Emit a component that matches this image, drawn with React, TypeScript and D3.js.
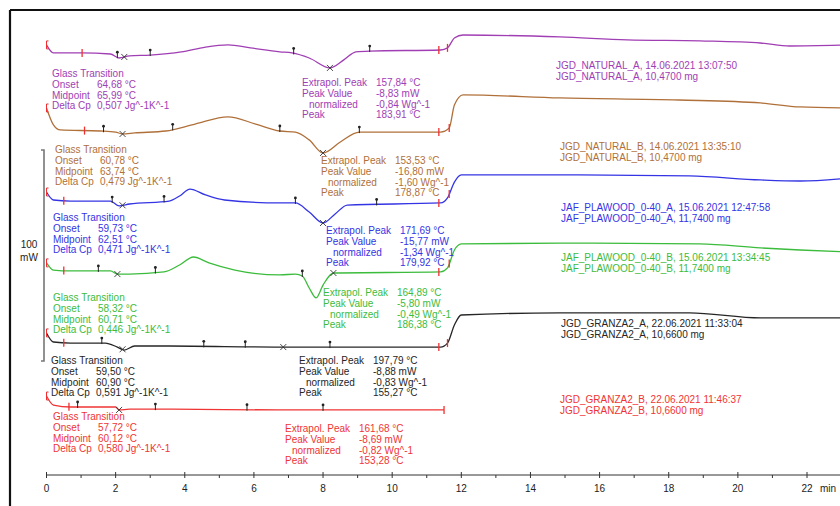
import * as d3 from 'd3'

// time (min) vs heat flow (mW, stacked with offsets as plotted)
const naturalA: [number, number][] = [
  [0, 149.8], [0.2, 146.0], [1.0, 146.0], [1.85, 145.5], [2.1, 143.6], [2.4, 144.6], [3.0, 145.0],
  [3.9, 146.5], [4.6, 148.8], [5.25, 149.8], [5.9, 148.4], [6.75, 146.5], [7.1, 146.0], [7.6, 143.6],
  [8.2, 138.9], [8.6, 142.7], [8.95, 146.5], [9.35, 146.9], [11.4, 147.4], [11.6, 148.4], [11.8, 153.1],
  [12.05, 154.5], [14.85, 153.6], [16.8, 152.2], [18.9, 151.7], [20.65, 150.7], [21.5, 149.3], [23.2, 149.8],
]
const naturalB: [number, number][] = [
  [0, 119.9], [0.2, 111.9], [0.4, 109.5], [1.55, 109.0], [2.0, 108.5], [2.2, 107.6], [2.55, 108.1],
  [3.45, 109.0], [4.3, 112.3], [5.25, 115.7], [6.05, 112.3], [6.75, 109.0], [7.2, 108.5], [7.6, 104.8],
  [8.0, 98.6], [8.5, 103.8], [9.05, 108.5], [11.4, 108.5], [11.65, 110.4], [11.8, 121.3], [12.05, 126.1],
  [14.85, 124.7], [18.3, 123.7], [20.65, 122.3], [21.8, 120.4], [23.2, 119.9],
]
const plawoodA: [number, number][] = [
  [0, 80.1], [0.2, 76.3], [0.7, 75.8], [1.85, 75.8], [2.1, 73.5], [2.4, 74.4], [3.55, 75.8], [3.85, 78.2],
  [4.15, 81.5], [4.6, 78.7], [5.15, 76.3], [6.75, 74.9], [7.2, 74.9], [7.6, 70.6], [8.0, 65.4], [8.35, 69.7],
  [8.7, 73.9], [11.4, 74.9], [11.6, 77.3], [11.8, 84.8], [12.0, 88.2], [14.85, 88.2], [18.6, 87.7],
  [20.65, 85.8], [21.8, 85.3], [23.2, 86.7],
]
const plawoodB: [number, number][] = [
  [0, 46.5], [0.2, 43.1], [0.7, 42.7], [1.85, 42.7], [2.05, 41.2], [2.4, 41.2], [3.4, 42.2], [3.85, 45.5],
  [4.25, 49.3], [4.7, 46.5], [5.45, 43.1], [6.75, 40.8], [7.2, 41.2], [7.4, 40.3], [7.6, 34.6], [7.8, 29.9],
  [8.0, 36.0], [8.3, 41.7], [11.4, 42.2], [11.6, 44.1], [11.8, 52.6], [12.0, 55.5], [14.85, 55.9],
  [18.9, 55.5], [20.65, 53.6], [21.8, 52.6], [23.2, 51.7],
]
const granzaA: [number, number][] = [
  [0, 13.3], [0.2, 9.0], [0.7, 8.5], [1.7, 8.5], [2.05, 6.6], [2.25, 5.2], [2.55, 7.1], [3.55, 7.1],
  [6.75, 6.6], [11.4, 6.6], [11.6, 8.5], [11.8, 17.1], [12.0, 21.8], [14.85, 22.8], [18.6, 22.8],
  [20.65, 20.4], [23.2, 20.4],
]
const granzaB: [number, number][] = [
  [0, -16.6], [0.2, -20.9], [0.7, -21.8], [2.0, -21.8], [2.1, -23.2], [2.4, -22.8], [3.55, -22.8],
  [6.75, -23.2], [11.5, -23.2],
]

const curves = [naturalA, naturalB, plawoodA, plawoodB, granzaA, granzaB]
const colors = ['#a03eb4', '#b0703a', '#3434e4', '#3cbc3c', '#262626', '#f03434']

const sampleNames = ['JGD_NATURAL_A', 'JGD_NATURAL_B', 'JAF_PLAWOOD_0-40_A', 'JAF_PLAWOOD_0-40_B', 'JGD_GRANZA2_A', 'JGD_GRANZA2_B']
const sampleDates = ['14.06.2021 13:07:50', '14.06.2021 13:35:10', '15.06.2021 12:47:58', '15.06.2021 13:34:45', '22.06.2021 11:33:04', '22.06.2021 11:46:37']
const sampleMasses = ['10,4700', '10,4700', '11,7400', '11,7400', '10,6600', '10,6600']

const onsets = ['64,68', '60,78', '59,73', '58,32', '59,50', '57,72']
const midpoints = ['65,99', '63,74', '62,51', '60,71', '60,90', '60,12']
const deltaCps = ['0,507', '0,479', '0,471', '0,446', '0,591', '0,580']

const extrapolPeaks = ['157,84', '153,53', '171,69', '164,89', '197,79', '161,68']
const peakValues = ['-8,83', '-16,80', '-15,77', '-5,80', '-8,88', '-8,69']
const normalizedValues = ['-0,84', '-1,60', '-1,34', '-0,49', '-0,83', '-0,82']
const peakTemps = ['183,91', '178,87', '179,92', '186,38', '155,27', '153,28']

// evaluation markers (min)
const redTicks = [[1.03, 11.35, 11.6], [1.1, 11.35, 11.65], [0.5, 11.35, 11.65], [0.5, 11.35, 11.65], [0.5, 11.35, 11.6], [0.65, 11.5]]
const flagTicks = [[2.05, 3.0, 7.15, 9.35], [1.65, 3.65, 6.75, 9.05], [1.9, 3.4, 7.2, 9.55], [1.5, 3.15, 7.4], [1.6, 4.55, 5.75, 8.2], [0.9, 3.15, 5.8, 8.0]]
const crossTicks = [[2.25, 8.2], [2.2, 8.0], [2.2, 8.0], [2.05, 8.3], [2.2, 6.85], [2.1]]

const xTicks = d3.range(0, 24, 1)

// label layout [x, y of first line]
const gtPos = [[52, 77], [55, 153], [53, 221], [53, 301], [51, 364], [53, 420]]
const pkPos = [[302, 86], [321, 164], [326, 234], [323, 296], [299, 364], [285, 432]]
const smPos = [[556, 69], [560, 150], [561, 211], [561, 261], [561, 327], [560, 403]]

const W = 840
const H = 506
const LH = 10.8

export default function App() {
  const x = d3.scaleLinear().domain([0, 22]).range([46.5, 807])
  const y = d3.scaleLinear().domain([0, 100]).range([361, 150])
  const line = d3.line<[number, number]>().x(d => x(d[0])).y(d => y(d[1])).curve(d3.curveMonotoneX)
  const bis = d3.bisector((d: [number, number]) => d[0]).left
  const yAt = (data: [number, number][], t: number) => {
    const i = Math.max(1, Math.min(data.length - 1, bis(data, t)))
    const a = data[i - 1], b = data[i]
    const k = (t - a[0]) / (b[0] - a[0])
    return y(a[1] + (b[1] - a[1]) * k)
  }
  const font = 'Liberation Sans, Arial, sans-serif'

  return (
    <svg width={W} height={H} style={{ position: 'absolute', left: 0, top: 0, background: '#fff' }} fontFamily={font} fontSize={10}>
      <defs>
        <clipPath id="plot"><rect x={11} y={11} width={W - 11} height={H - 11} /></clipPath>
      </defs>
      {/* frame */}
      <line x1={10} y1={10} x2={W} y2={10} stroke="#111" strokeWidth={2.2} />
      <line x1={10} y1={10} x2={10} y2={H} stroke="#111" strokeWidth={2.2} />

      {/* scale bar */}
      <path d={`M41,${y(100)} H44 V${y(0)} H41`} fill="none" stroke="#777" strokeWidth={1.6} />
      <text x={29} y={248} textAnchor="middle" fill="#222">100</text>
      <text x={29} y={261} textAnchor="middle" fill="#222">mW</text>

      <g clipPath="url(#plot)">
        {curves.map((c, i) => (
          <g key={i}>
            <path d={line(c) || ''} fill="none" stroke={colors[i]} strokeWidth={1.3} />
            <path d={`M${x(0) + 2},${y(c[0][1]) - 4} h-2 v8 h2`} fill="none" stroke="#f03030" strokeWidth={1} />
            {redTicks[i].map((t, j) => (
              <line key={'r' + j} x1={x(t)} x2={x(t)} y1={yAt(c, t) - 4} y2={yAt(c, t) + 4} stroke="#f03030" strokeWidth={1.3} />
            ))}
            {flagTicks[i].map((t, j) => (
              <g key={'f' + j}>
                <line x1={x(t)} x2={x(t)} y1={yAt(c, t) - 5} y2={yAt(c, t) + 1} stroke="#222" strokeWidth={1} />
                <circle cx={x(t)} cy={yAt(c, t) - 5} r={1.4} fill="#222" />
              </g>
            ))}
            {crossTicks[i].map((t, j) => (
              <path key={'x' + j} d={`M${x(t) - 3},${yAt(c, t) - 3} l6,6 M${x(t) + 3},${yAt(c, t) - 3} l-6,6`} stroke="#333" strokeWidth={0.9} />
            ))}
          </g>
        ))}
      </g>

      {/* glass transition labels */}
      {curves.map((_, i) => {
        const [gx, gy] = gtPos[i]
        return (
          <g key={'gt' + i} fill={colors[i]}>
            <text x={gx} y={gy}>Glass Transition</text>
            <text x={gx} y={gy + LH}>Onset</text>
            <text x={gx + 45} y={gy + LH}>{onsets[i]} °C</text>
            <text x={gx} y={gy + 2 * LH}>Midpoint</text>
            <text x={gx + 45} y={gy + 2 * LH}>{midpoints[i]} °C</text>
            <text x={gx} y={gy + 3 * LH}>Delta Cp</text>
            <text x={gx + 45} y={gy + 3 * LH}>{deltaCps[i]} Jg^-1K^-1</text>
          </g>
        )
      })}

      {/* peak labels */}
      {curves.map((_, i) => {
        const [px, py] = pkPos[i]
        return (
          <g key={'pk' + i} fill={colors[i]}>
            <text x={px} y={py}>Extrapol. Peak</text>
            <text x={px + 74} y={py}>{extrapolPeaks[i]} °C</text>
            <text x={px} y={py + LH}>Peak Value</text>
            <text x={px + 74} y={py + LH}>{peakValues[i]} mW</text>
            <text x={px + 7} y={py + 2 * LH}>normalized</text>
            <text x={px + 74} y={py + 2 * LH}>{normalizedValues[i]} Wg^-1</text>
            <text x={px} y={py + 3 * LH}>Peak</text>
            <text x={px + 74} y={py + 3 * LH}>{peakTemps[i]} °C</text>
          </g>
        )
      })}

      {/* sample labels */}
      {curves.map((_, i) => {
        const [sx, sy] = smPos[i]
        return (
          <g key={'sm' + i} fill={colors[i]}>
            <text x={sx} y={sy}>{sampleNames[i]}, {sampleDates[i]}</text>
            <text x={sx} y={sy + LH}>{sampleNames[i]}, {sampleMasses[i]} mg</text>
          </g>
        )
      })}

      {/* time axis */}
      <line x1={x(0)} x2={W} y1={475} y2={475} stroke="#333" strokeWidth={1} />
      {xTicks.map(t => (
        <g key={t}>
          <line x1={x(t)} x2={x(t)} y1={t % 2 === 0 ? 472 : 475} y2={478} stroke="#333" strokeWidth={1} />
          {t % 2 === 0 && <text x={x(t)} y={492} textAnchor="middle" fill="#222">{t}</text>}
        </g>
      ))}
      <text x={820} y={492} fill="#222">min</text>
    </svg>
  )
}
